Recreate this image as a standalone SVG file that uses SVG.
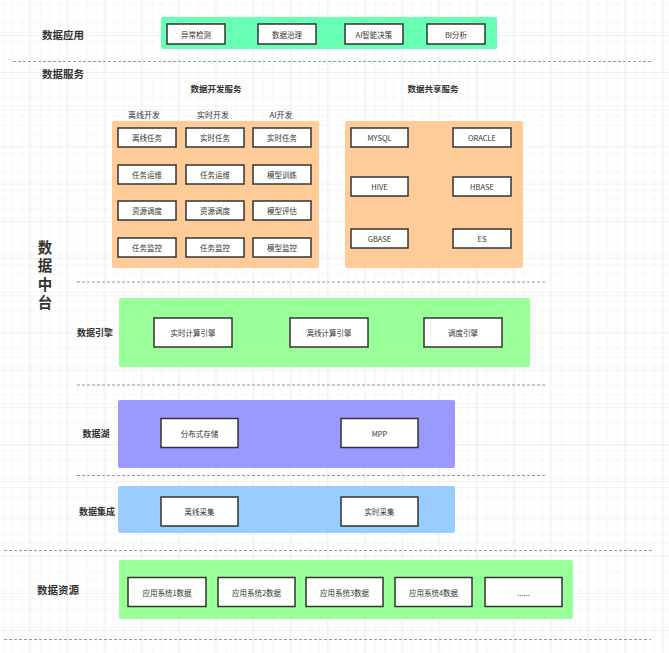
<svg xmlns="http://www.w3.org/2000/svg" width="669" height="653" viewBox="0 0 669 653">
<defs>
<pattern id="minor" width="9.3" height="9.3" patternUnits="userSpaceOnUse" x="1.4" y="6">
<path d="M9.3 0 L0 0 0 9.3" fill="none" stroke="#f0f0f0" stroke-width="1"/>
</pattern>
<pattern id="major" width="37.2" height="37.2" patternUnits="userSpaceOnUse" x="29.3" y="34.9">
<rect width="37.2" height="37.2" fill="url(#minor)"/>
<path d="M37.2 0 L0 0 0 37.2" fill="none" stroke="#e4e4e4" stroke-width="1"/>
</pattern>
<style>
text{font-family:"Noto Sans CJK SC","Liberation Sans",sans-serif;fill:#333;text-anchor:middle;dominant-baseline:central}
.sec{font-size:10.5px;font-weight:bold;text-anchor:start}
.lay{font-size:9px;font-weight:bold}
.sub{font-size:8.5px;font-weight:bold}
.col{font-size:8px}
.bt{font-size:7.5px}
.big{font-size:14.5px;font-weight:bold;writing-mode:vertical-rl;text-anchor:start;letter-spacing:4px}
.box{fill:#fff;stroke:#333;stroke-width:1.5}
.dash{stroke:#999;stroke-width:1;stroke-dasharray:3 2;fill:none}
</style>
</defs>
<rect width="669" height="653" fill="#fff"/>
<rect width="669" height="653" fill="url(#major)"/>

<g id="separators">
<line class="dash" x1="13" y1="61.5" x2="652" y2="61.5"/>
<line class="dash" x1="77" y1="282" x2="545" y2="282"/>
<line class="dash" x1="77" y1="385" x2="545" y2="385"/>
<line class="dash" x1="77" y1="475.5" x2="545" y2="475.5"/>
<line class="dash" x1="4" y1="550.5" x2="652" y2="550.5"/>
<line class="dash" x1="4" y1="639.5" x2="651" y2="639.5"/>
</g>

<g id="data-app">
<text class="sec" x="42" y="34">数据应用</text>
<rect x="161" y="17" width="336" height="32" rx="2" fill="#66FFB3"/>
<g id="app-1"><rect class="box" x="167" y="24" width="58" height="20"/><text class="bt" x="196" y="34">异常检测</text></g>
<g id="app-2"><rect class="box" x="258" y="24" width="58" height="20"/><text class="bt" x="287" y="34">数据治理</text></g>
<g id="app-3"><rect class="box" x="345" y="24" width="58" height="20"/><text class="bt" x="374" y="34">AI智能决策</text></g>
<g id="app-4"><rect class="box" x="427" y="24" width="58" height="20"/><text class="bt" x="456" y="34">BI分析</text></g>
</g>

<g id="data-service">
<text class="sec" x="42" y="73">数据服务</text>
<text class="sub" x="216" y="88">数据开发服务</text>
<text class="sub" x="433" y="88">数据共享服务</text>
<text class="col" x="144" y="114">离线开发</text>
<text class="col" x="213" y="114">实时开发</text>
<text class="col" x="281" y="114">AI开发</text>
</g>

<g id="dev-service">
<rect x="112" y="121" width="207" height="147" rx="2" fill="#FFCC99"/>
<g id="dev-1-1"><rect class="box" x="118" y="128" width="58" height="19"/><text class="bt" x="147" y="137.5">离线任务</text></g>
<g id="dev-1-2"><rect class="box" x="186" y="128" width="58" height="19"/><text class="bt" x="215" y="137.5">实时任务</text></g>
<g id="dev-1-3"><rect class="box" x="253" y="128" width="58" height="19"/><text class="bt" x="282" y="137.5">实时任务</text></g>
<g id="dev-2-1"><rect class="box" x="118" y="165" width="58" height="19"/><text class="bt" x="147" y="174.5">任务运维</text></g>
<g id="dev-2-2"><rect class="box" x="186" y="165" width="58" height="19"/><text class="bt" x="215" y="174.5">任务运维</text></g>
<g id="dev-2-3"><rect class="box" x="253" y="165" width="58" height="19"/><text class="bt" x="282" y="174.5">模型训练</text></g>
<g id="dev-3-1"><rect class="box" x="118" y="201" width="58" height="19"/><text class="bt" x="147" y="210.5">资源调度</text></g>
<g id="dev-3-2"><rect class="box" x="186" y="201" width="58" height="19"/><text class="bt" x="215" y="210.5">资源调度</text></g>
<g id="dev-3-3"><rect class="box" x="253" y="201" width="58" height="19"/><text class="bt" x="282" y="210.5">模型评估</text></g>
<g id="dev-4-1"><rect class="box" x="118" y="238" width="58" height="19"/><text class="bt" x="147" y="247.5">任务监控</text></g>
<g id="dev-4-2"><rect class="box" x="186" y="238" width="58" height="19"/><text class="bt" x="215" y="247.5">任务监控</text></g>
<g id="dev-4-3"><rect class="box" x="253" y="238" width="58" height="19"/><text class="bt" x="282" y="247.5">模型监控</text></g>
</g>

<g id="share-service">
<rect x="345" y="121" width="178" height="147" rx="2" fill="#FFCC99"/>
<g id="sh-1"><rect class="box" x="351" y="128" width="57" height="19"/><text class="bt" x="379.5" y="137.5">MYSQL</text></g>
<g id="sh-2"><rect class="box" x="453" y="128" width="58" height="19"/><text class="bt" x="482" y="137.5">ORACLE</text></g>
<g id="sh-3"><rect class="box" x="351" y="177" width="57" height="19"/><text class="bt" x="379.5" y="186.5">HIVE</text></g>
<g id="sh-4"><rect class="box" x="453" y="177" width="58" height="19"/><text class="bt" x="482" y="186.5">HBASE</text></g>
<g id="sh-5"><rect class="box" x="351" y="229" width="57" height="19"/><text class="bt" x="379.5" y="238.5">GBASE</text></g>
<g id="sh-6"><rect class="box" x="453" y="229" width="58" height="19"/><text class="bt" x="482" y="238.5">ES</text></g>
</g>

<g id="middle-platform">
<text class="big" x="45" y="240">数据中台</text>
</g>

<g id="data-engine">
<text class="lay" x="95" y="332">数据引擎</text>
<rect x="119" y="298" width="411" height="69" rx="2" fill="#99FF99"/>
<g id="eng-1"><rect class="box" x="154" y="318" width="78" height="29"/><text class="bt" x="193" y="332.5">实时计算引擎</text></g>
<g id="eng-2"><rect class="box" x="290" y="318" width="78" height="29"/><text class="bt" x="329" y="332.5">离线计算引擎</text></g>
<g id="eng-3"><rect class="box" x="424" y="318" width="78" height="29"/><text class="bt" x="463" y="332.5">调度引擎</text></g>
</g>

<g id="data-lake">
<text class="lay" x="96" y="433">数据湖</text>
<rect x="118" y="400" width="337" height="68" rx="2" fill="#9999FF"/>
<g id="lake-1"><rect class="box" x="161" y="418.5" width="77" height="29"/><text class="bt" x="199.5" y="433">分布式存储</text></g>
<g id="lake-2"><rect class="box" x="341" y="418.5" width="77" height="29"/><text class="bt" x="379.5" y="433">MPP</text></g>
</g>

<g id="data-integration">
<text class="lay" x="97" y="511.5">数据集成</text>
<rect x="118" y="486" width="337" height="47" rx="2" fill="#99CCFF"/>
<g id="int-1"><rect class="box" x="161" y="497" width="77" height="29"/><text class="bt" x="199.5" y="511.5">离线采集</text></g>
<g id="int-2"><rect class="box" x="341" y="497" width="77" height="29"/><text class="bt" x="379.5" y="511.5">实时采集</text></g>
</g>

<g id="data-source">
<text class="sec" x="37" y="589">数据资源</text>
<rect x="119" y="560" width="454" height="59" rx="2" fill="#99FF99"/>
<g id="src-1"><rect class="box" x="128" y="577.5" width="78" height="29"/><text class="bt" x="167" y="592">应用系统1数据</text></g>
<g id="src-2"><rect class="box" x="218" y="577.5" width="77" height="29"/><text class="bt" x="256.5" y="592">应用系统2数据</text></g>
<g id="src-3"><rect class="box" x="306" y="577.5" width="77" height="29"/><text class="bt" x="344.5" y="592">应用系统3数据</text></g>
<g id="src-4"><rect class="box" x="395" y="577.5" width="77" height="29"/><text class="bt" x="433.5" y="592">应用系统4数据</text></g>
<g id="src-5"><rect class="box" x="485" y="577.5" width="77" height="29"/><text class="bt" x="523.5" y="592">......</text></g>
</g>
</svg>
